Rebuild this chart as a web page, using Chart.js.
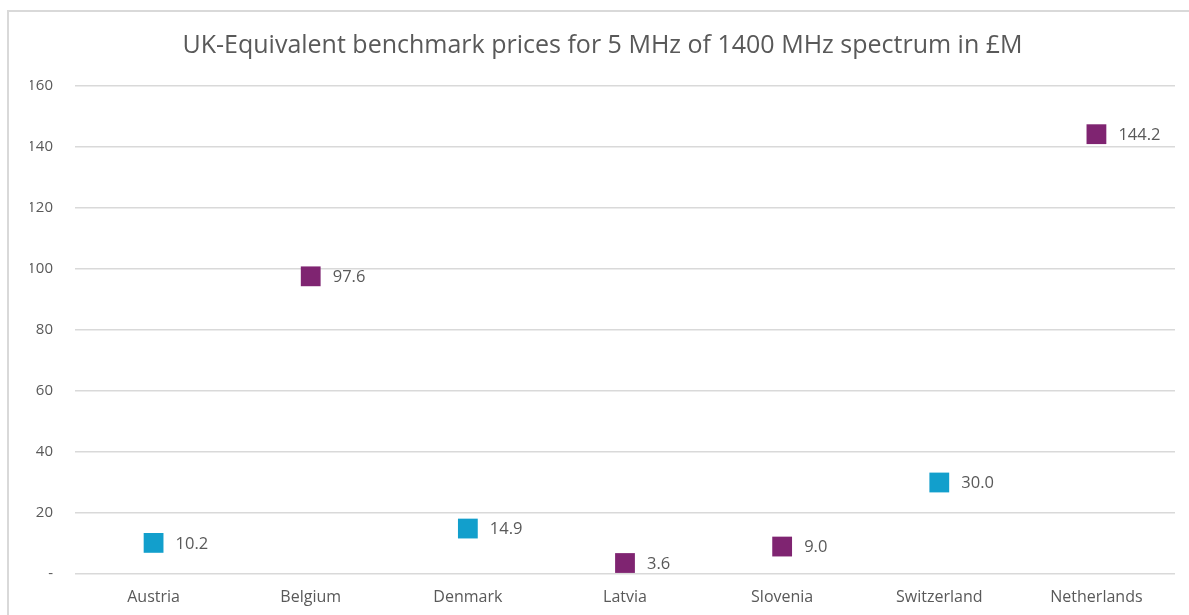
<!DOCTYPE html>
<html lang="en">
<head>
  <meta charset="UTF-8">
  <title>1400 MHz benchmark prices</title>
  <script src="https://cdn.jsdelivr.net/npm/chart.js"></script>
  <style>
    html, body { margin: 0; padding: 0; background: #fff; overflow: hidden; }
    #frame { position: absolute; left: 7px; top: 10px; width: 1200px; height: 620px;
             border-left: 2px solid #d9d9d9; border-top: 2px solid #d9d9d9; }
    #wrap { position: absolute; left: 0; top: 0; width: 1189px; height: 615px; }
  </style>
</head>
<body>
<div id="frame"></div>
<div id="wrap"><canvas id="priceChart"></canvas></div>

<script>
  // chart data
  const countries = ['Austria', 'Belgium', 'Denmark', 'Latvia', 'Slovenia', 'Switzerland', 'Netherlands'];
  const tealPrices = [10.2, null, 14.9, null, null, 30.0, null];
  const purplePrices = [null, 97.6, null, 3.6, 9.0, null, 144.2];
  const yTicks = [0, 20, 40, 60, 80, 100, 120, 140, 160];

  const textGrey = '#595959';
  const fontName = "'Open Sans', Calibri, sans-serif";

  // value labels to the right of each marker
  const valueLabels = {
    id: 'valueLabels',
    afterDatasetsDraw(chart) {
      const ctx = chart.ctx;
      ctx.save();
      ctx.font = '16.5px ' + fontName;
      ctx.fillStyle = textGrey;
      ctx.textAlign = 'left';
      ctx.textBaseline = 'middle';
      chart.data.datasets.forEach((ds, i) => {
        chart.getDatasetMeta(i).data.forEach((pt, j) => {
          const v = ds.data[j];
          if (v === null) return;
          ctx.fillText(v.toFixed(1), pt.x + 22, pt.y + 1);
        });
      });
      ctx.restore();
    }
  };

  const ctx = document.getElementById('priceChart').getContext('2d');
  new Chart(ctx, {
    type: 'line',
    data: {
      labels: countries,
      datasets: [
        {
          label: 'Teal',
          data: tealPrices,
          showLine: false,
          pointStyle: 'rect',
          pointRadius: 14,
          pointHoverRadius: 14,
          pointBackgroundColor: '#129fcc',
          pointBorderColor: '#129fcc',
          pointBorderWidth: 0
        },
        {
          label: 'Purple',
          data: purplePrices,
          showLine: false,
          pointStyle: 'rect',
          pointRadius: 14,
          pointHoverRadius: 14,
          pointBackgroundColor: '#7f2471',
          pointBorderColor: '#7f2471',
          pointBorderWidth: 0
        }
      ]
    },
    options: {
      responsive: true,
      maintainAspectRatio: false,
      animation: false,
      layout: { padding: { left: 30, right: 14, top: 0, bottom: 0 } },
      plugins: {
        legend: { display: false },
        tooltip: { enabled: false },
        title: {
          display: true,
          text: 'UK-Equivalent benchmark prices for 5 MHz of 1400 MHz spectrum in £M',
          color: textGrey,
          font: { family: fontName, size: 25, weight: 'normal', lineHeight: 1.2 },
          padding: { top: 31, bottom: 25 }
        }
      },
      scales: {
        x: {
          offset: true,
          grid: { display: false, drawTicks: false },
          border: { display: false },
          ticks: { color: textGrey, font: { family: fontName, size: 16 }, padding: 14 },
          afterFit: (s) => { s.height = 41; }
        },
        y: {
          min: 0,
          max: 160,
          afterBuildTicks: (s) => { s.ticks = yTicks.map(v => ({ value: v })); },
          grid: { color: '#d9d9d9', lineWidth: 1.5, drawTicks: false },
          border: { display: false },
          ticks: {
            color: textGrey,
            font: { family: fontName, size: 15 },
            padding: 22,
            callback: (v) => v === 0 ? '-' : v
          },
          afterFit: (s) => { s.width = 45; }
        }
      }
    },
    plugins: [valueLabels]
  });
</script>
</body>
</html>
